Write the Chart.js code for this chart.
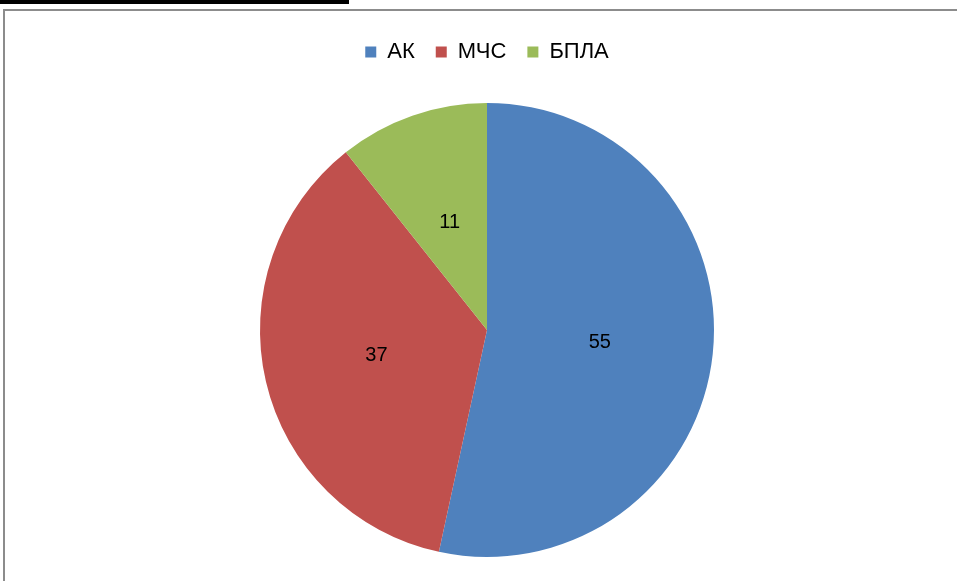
<!DOCTYPE html>
<html><head><meta charset="utf-8">
<script src="https://cdn.jsdelivr.net/npm/chart.js@4/dist/chart.umd.min.js"></script>
<style>
html,body{margin:0;padding:0;background:#fff;width:957px;height:581px;overflow:hidden;}
#bar{position:absolute;left:0;top:0;width:349px;height:4px;background:#000;}
#frame{position:absolute;left:3px;top:9px;width:960px;height:600px;border-left:2px solid #8c8c8c;border-top:2px solid #8c8c8c;}
#wrap{position:absolute;left:0;top:0;width:957px;height:581px;}
</style></head>
<body>
<div id="bar"></div>
<div id="frame"></div>
<div id="wrap"><canvas id="c"></canvas></div>
<script>
const categories = ['АК', 'МЧС', 'БПЛА'];
const values = [55, 37, 11];
const colors = ['#4F81BD', '#C0504D', '#9BBB59'];

const legendGap = {
  id: 'legendGap',
  beforeInit(chart) {
    const fit = chart.legend.fit;
    chart.legend.fit = function () { fit.bind(chart.legend)(); this.height += 30; };
  }
};
const valueLabels = {
  id: 'valueLabels',
  afterDatasetsDraw(chart) {
    const ctx = chart.ctx;
    const meta = chart.getDatasetMeta(0);
    ctx.save();
    ctx.font = '20px "Liberation Sans", Arial, sans-serif';
    ctx.fillStyle = '#000';
    ctx.textAlign = 'center';
    ctx.textBaseline = 'middle';
    meta.data.forEach((arc, i) => {
      const p = arc.tooltipPosition();
      ctx.fillText(String(values[i]), p.x, p.y);
    });
    ctx.restore();
  }
};

new Chart(document.getElementById('c'), {
  type: 'pie',
  data: { labels: categories, datasets: [{ data: values, backgroundColor: colors, borderWidth: 0 }] },
  options: {
    responsive: true, maintainAspectRatio: false, animation: false,
    layout: { padding: { top: 20, left: 17, right: 0, bottom: 24 } },
    plugins: {
      legend: {
        position: 'top',
        labels: { boxWidth: 11, boxHeight: 11, padding: 21, color: '#000',
          font: { size: 22, family: '"Liberation Sans", Arial, sans-serif' } }
      },
      tooltip: { enabled: false }
    }
  },
  plugins: [legendGap, valueLabels]
});
</script>
</body></html>
